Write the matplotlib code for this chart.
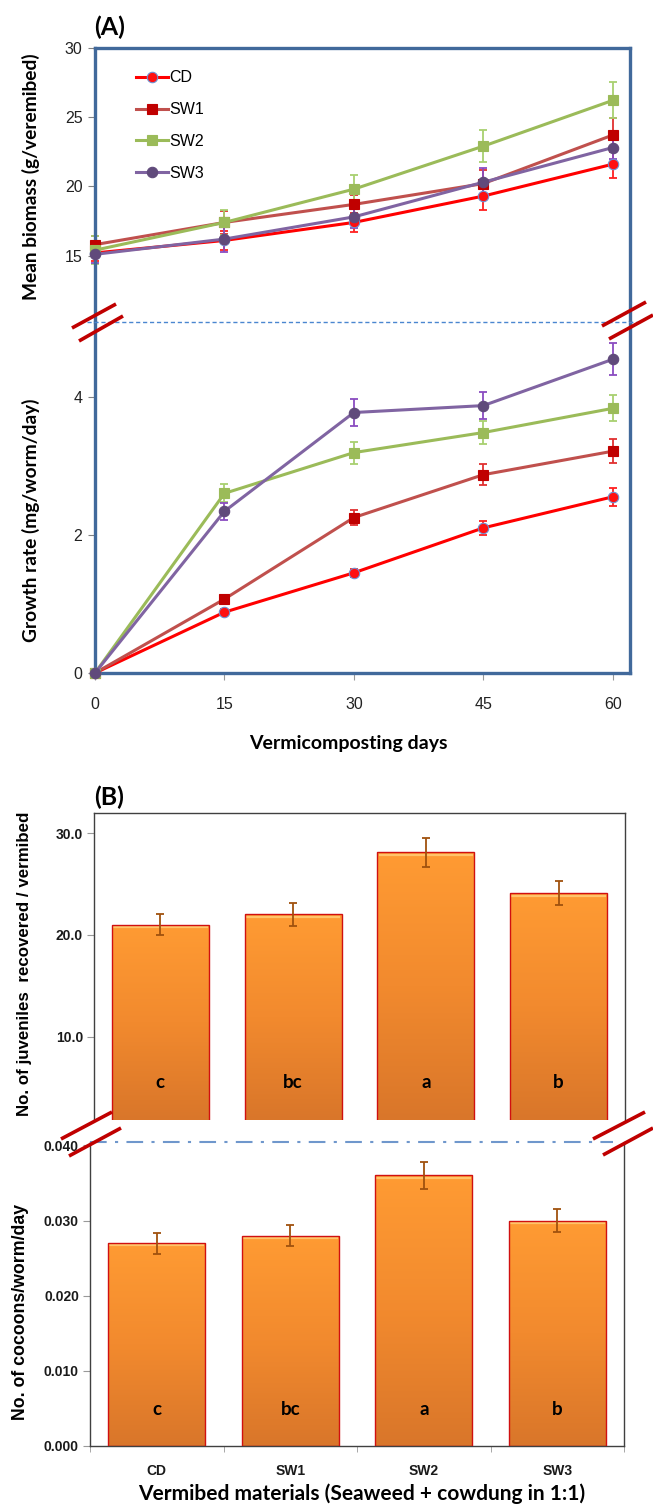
import numpy as np
import matplotlib
matplotlib.use("Agg")
from matplotlib import pyplot as plt
from matplotlib.lines import Line2D
from matplotlib.colors import LinearSegmentedColormap

# -- data, panel A --
days = [0, 15, 30, 45, 60]
series = ["CD", "SW1", "SW2", "SW3"]

biomass_cd = [15.2, 16.1, 17.4, 19.3, 21.6]
biomass_sw1 = [15.8, 17.4, 18.7, 20.2, 23.7]
biomass_sw2 = [15.4, 17.4, 19.8, 22.9, 26.2]
biomass_sw3 = [15.1, 16.2, 17.8, 20.3, 22.8]
biomass_err_cd = [0.6, 0.7, 0.7, 1.0, 1.0]
biomass_err_sw1 = [0.6, 0.8, 0.7, 1.0, 1.2]
biomass_err_sw2 = [1.0, 0.9, 1.05, 1.15, 1.3]
biomass_err_sw3 = [0.6, 0.9, 0.8, 1.0, 0.8]

growth_cd = [0.0, 0.88, 1.45, 2.10, 2.55]
growth_sw1 = [0.0, 1.07, 2.25, 2.87, 3.21]
growth_sw2 = [0.0, 2.60, 3.19, 3.48, 3.83]
growth_sw3 = [0.0, 2.34, 3.77, 3.87, 4.54]
growth_err_cd = [0.0, 0.04, 0.06, 0.10, 0.13]
growth_err_sw1 = [0.0, 0.04, 0.11, 0.15, 0.17]
growth_err_sw2 = [0.0, 0.13, 0.16, 0.16, 0.19]
growth_err_sw3 = [0.0, 0.12, 0.19, 0.20, 0.23]

# -- data, panel B --
materials = ["CD", "SW1", "SW2", "SW3"]
juveniles = [21.0, 22.0, 28.1, 24.1]
juveniles_err = [1.05, 1.1, 1.45, 1.2]
cocoons = [0.027, 0.028, 0.036, 0.030]
cocoons_err = [0.0014, 0.0014, 0.0018, 0.0015]
letters = ["c", "bc", "a", "b"]

W, H = 653, 1508
fig = plt.figure(figsize=(W / 100, H / 100), dpi=100)


def fx(px):
    return px / W


def fy(py):
    return 1 - py / H


def box(x0, y0, x1, y1):
    return [fx(x0), fy(y1), fx(x1) - fx(x0), fy(y0) - fy(y1)]


BLUE = "#41699b"
styles = {
    "CD": dict(color="#ff0000", mfc="#ff1010", mec="#6f8fd0", marker="o", ecolor="#ff2020"),
    "SW1": dict(color="#c0504d", mfc="#c00000", mec="#c00000", marker="s", ecolor="#e03030"),
    "SW2": dict(color="#9bbb59", mfc="#9bbb59", mec="#9bbb59", marker="s", ecolor="#a8d070"),
    "SW3": dict(color="#8064a2", mfc="#604a7b", mec="#604a7b", marker="o", ecolor="#8a4cc0"),
}

# -- panel A --
axA1 = fig.add_axes(box(95, 47.7, 630, 322))
axA2 = fig.add_axes(box(95, 322, 630, 673))

top_vals = [biomass_cd, biomass_sw1, biomass_sw2, biomass_sw3]
top_errs = [biomass_err_cd, biomass_err_sw1, biomass_err_sw2, biomass_err_sw3]
bot_vals = [growth_cd, growth_sw1, growth_sw2, growth_sw3]
bot_errs = [growth_err_cd, growth_err_sw1, growth_err_sw2, growth_err_sw3]

for ax, vals, errs in [(axA1, top_vals, top_errs), (axA2, bot_vals, bot_errs)]:
    for name, v, e in zip(series, vals, errs):
        st = styles[name]
        ax.errorbar(days, v, yerr=e, fmt="none", ecolor=st["ecolor"], elinewidth=1.3,
                    capsize=3, capthick=1.3, zorder=2, clip_on=False)
        ax.plot(days, v, color=st["color"], lw=2.2, marker=st["marker"], ms=7.5,
                mfc=st["mfc"], mec=st["mec"], mew=0.8, label=name, zorder=3, clip_on=False)
    ax.set_xlim(0, 62)
    for s in ax.spines.values():
        s.set_color(BLUE)
        s.set_linewidth(2.4)
    ax.tick_params(axis="y", colors="#808080", labelcolor="#222222", labelsize=11.5,
                   length=5, width=0.8, pad=4)

axA1.set_ylim(10.22, 30)
axA1.set_yticks([15, 20, 25, 30])
axA1.spines["bottom"].set_visible(False)
axA1.tick_params(axis="x", bottom=False, labelbottom=False)
axA2.set_ylim(0, 5.08)
axA2.set_yticks([0, 2, 4])
axA2.spines["top"].set_visible(False)
axA2.set_xticks(days)
axA2.tick_params(axis="x", colors="#999999", labelcolor="#222222", labelsize=11.5,
                 length=5, width=0.8, pad=12)
for ax in (axA1, axA2):
    for lbl in ax.get_yticklabels() + ax.get_xticklabels():
        lbl.set_family("Liberation Sans")

leg = axA1.legend(loc="upper left", bbox_to_anchor=((122 - 95) / 535, 1 - (56 - 47.7) / 274.3),
                  frameon=False, handlelength=2.0, handletextpad=0.05,
                  labelspacing=1.05, prop={"family": "Liberation Sans", "size": 11.5})

fig.text(fx(31), fy(177), "Mean biomass (g/veremibed)", rotation=90, ha="center", va="center",
         family="Lato", weight="bold", fontsize=13.8)
fig.text(fx(31), fy(520), "Growth rate (mg/worm/day)", rotation=90, ha="center", va="center",
         family="Lato", weight="bold", fontsize=13.8)
fig.text(fx(348), fy(743), "Vermicomposting days", ha="center", va="center",
         family="Lato", weight="bold", fontsize=14)
fig.text(fx(94), fy(27), "(A)", ha="left", va="center", family="Lato", weight="bold", fontsize=18)

# dashed separator and break marks in A
fig.add_artist(Line2D([fx(87), fx(638)], [fy(322), fy(322)], color="#4a86d0", lw=1.0,
                      ls=(0, (3, 2)), transform=fig.transFigure))
for (x0, y0, x1, y1) in [(72, 328, 116, 304), (79, 341, 123, 316),
                         (602, 326, 646, 302), (609, 339, 653, 315)]:
    fig.add_artist(Line2D([fx(x0), fx(x1)], [fy(y0), fy(y1)], color="#c00000", lw=2.6,
                          transform=fig.transFigure, solid_capstyle="butt"))

# -- panel B --
axB1 = fig.add_axes(box(94, 812.7, 625, 1120))
axB2 = fig.add_axes(box(90, 1141.7, 624, 1445.7))

bar_cmap = LinearSegmentedColormap.from_list("orange", ["#d9762a", "#f28a2e", "#ff9b33"])
xpos = np.arange(len(materials))


def gradient_bars(ax, vals, errs, ymin):
    bars = ax.bar(xpos, vals, width=0.73, color="none", edgecolor="#d01010", lw=1.0, zorder=3)
    grad = np.linspace(0, 1, 256).reshape(-1, 1)
    span = ax.get_ylim()[1] - ax.get_ylim()[0]
    for b, v in zip(bars, vals):
        x0 = b.get_x()
        im = ax.imshow(grad, extent=[x0, x0 + b.get_width(), ymin, v], origin="lower",
                       aspect="auto", cmap=bar_cmap, zorder=2)
        im.set_clip_path(b)
        # light rim along the bar top
        ax.plot([x0 + 0.01, x0 + b.get_width() - 0.01], [v - 0.008 * span] * 2,
                color="#ffc46a", lw=1.6, zorder=2.5, solid_capstyle="butt")
    ax.errorbar(xpos, vals, yerr=errs, fmt="none", ecolor="#a0520e", elinewidth=1.3,
                capsize=3, capthick=1.3, zorder=4)
    return bars


axB1.set_xlim(-0.5, 3.5)
axB1.set_ylim(1.8, 32.0)
axB2.set_xlim(-0.5, 3.5)
axB2.set_ylim(0, 0.0405)

gradient_bars(axB1, juveniles, juveniles_err, 1.8)
gradient_bars(axB2, cocoons, cocoons_err, 0)

axB1.set_xlim(-0.5, 3.5)
axB1.set_ylim(1.8, 32.0)
axB1.set_yticks([10, 20, 30])
axB1.set_yticklabels(["10.0", "20.0", "30.0"])
axB1.spines["bottom"].set_visible(False)
axB1.tick_params(axis="x", bottom=False, labelbottom=False)

axB2.set_xlim(-0.5, 3.5)
axB2.set_ylim(0, 0.0405)
axB2.set_yticks([0, 0.01, 0.02, 0.03, 0.04])
axB2.set_yticklabels(["0.000", "0.010", "0.020", "0.030", "0.040"])
axB2.spines["top"].set_visible(False)
axB2.set_xticks(xpos)
axB2.set_xticklabels(materials)
axB2.set_xticks(np.arange(-0.5, 4, 1), minor=True)
axB2.tick_params(axis="x", which="major", length=0, pad=13, labelsize=10)
axB2.tick_params(axis="x", which="minor", length=4, color="#999999")

letter_y = {axB1: 5.5, axB2: 0.0048}
for ax in (axB1, axB2):
    for s in ax.spines.values():
        s.set_color("#404040")
        s.set_linewidth(1.0)
    ax.tick_params(axis="y", length=5, color="#999999", labelsize=10, pad=3)
    for lbl in ax.get_yticklabels() + ax.get_xticklabels():
        lbl.set_family("Liberation Sans")
        lbl.set_weight("bold")
        lbl.set_color("#1a1a1a")
    for xi, t in zip(xpos, letters):
        ax.text(xi, letter_y[ax], t, ha="center", va="center",
                family="Lato", weight="bold", fontsize=13.5, zorder=5)

fig.text(fx(25), fy(964), "No. of juveniles  recovered / vermibed", rotation=90, ha="center",
         va="center", family="Liberation Sans", weight="bold", fontsize=12.2)
fig.text(fx(21), fy(1312), "No. of cocoons/worm/day", rotation=90, ha="center", va="center",
         family="Liberation Sans", weight="bold", fontsize=12.8)
fig.text(fx(362), fy(1494), "Vermibed materials (Seaweed + cowdung in 1:1)", ha="center",
         va="center", family="Lato", weight="bold", fontsize=15)
fig.text(fx(94), fy(797), "(B)", ha="left", va="center", family="Lato", weight="bold", fontsize=18)

fig.add_artist(Line2D([fx(90), fx(613)], [fy(1141.7), fy(1141.7)], color="#6f97cc", lw=1.5,
                      ls=(0, (8, 4, 1.5, 4)), transform=fig.transFigure))
for (x0, y0, x1, y1) in [(61, 1139, 112, 1112), (69, 1156, 121, 1128),
                         (593, 1139, 645, 1112), (603, 1155, 653, 1128)]:
    fig.add_artist(Line2D([fx(x0), fx(x1)], [fy(y0), fy(y1)], color="#c00000", lw=2.6,
                          transform=fig.transFigure, solid_capstyle="butt"))

fig.savefig("out.png", dpi=100)
